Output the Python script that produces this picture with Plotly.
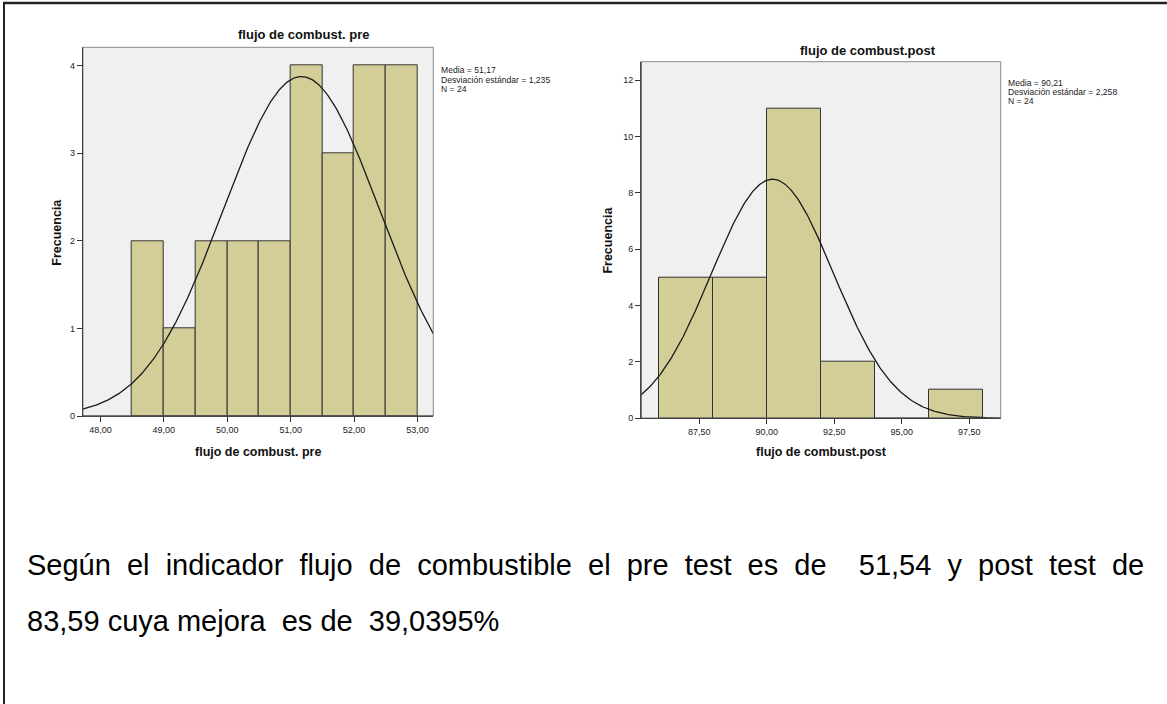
import numpy as np
import plotly.graph_objects as go

W, H = 1167, 704
FONT = "Arial, 'Liberation Sans', sans-serif"

# ---------------- data ----------------
pre_bin_edges = [48.5, 49.0, 49.5, 50.0, 50.5, 51.0, 51.5, 52.0, 52.5, 53.0]
pre_counts = [2, 1, 2, 2, 2, 4, 3, 4, 4]
pre_mean, pre_sd, pre_n = 51.17, 1.235, 24
pre_xticks = [48, 49, 50, 51, 52, 53]
pre_xticklabels = ["48,00", "49,00", "50,00", "51,00", "52,00", "53,00"]
pre_yticks = [0, 1, 2, 3, 4]

post_bin_edges = [86, 88, 90, 92, 94, 96, 98]
post_counts = [5, 5, 11, 2, 0, 1]
post_mean, post_sd, post_n = 90.21, 2.258, 24
post_xticks = [87.5, 90, 92.5, 95, 97.5]
post_xticklabels = ["87,50", "90,00", "92,50", "95,00", "97,50"]
post_yticks = [0, 2, 4, 6, 8, 10, 12]

pre_title = "flujo de combust. pre"
post_title = "flujo de combust.post"
y_title = "Frecuencia"
pre_stats = ["Media = 51,17", "Desviación estándar = 1,235", "N = 24"]
post_stats = ["Media = 90,21", "Desviación estándar = 2,258", "N = 24"]
body_line1 = "Según el indicador flujo de combustible el pre test es de  51,54 y post test de"
body_line2 = "83,59 cuya mejora  es de  39,0395%"

# ---------------- helpers ----------------
def px(x):
    return x / W

def py(y):
    return 1 - y / H

BAR_FILL = "#D3CE97"
BAR_LINE = "#333333"

fig = go.Figure()

def add_hist(edges, counts, mean, sd, n, xr, xa, ya):
    edges = np.array(edges, dtype=float)
    centers = (edges[:-1] + edges[1:]) / 2
    widths = edges[1:] - edges[:-1]
    fig.add_trace(go.Bar(
        x=centers, y=counts, width=widths,
        marker=dict(color=BAR_FILL, line=dict(color=BAR_LINE, width=1)),
        xaxis=xa, yaxis=ya, hoverinfo="skip", showlegend=False,
    ))
    bw = widths[0]
    xs = np.linspace(xr[0], xr[1], 400)
    ys = n * bw * np.exp(-0.5 * ((xs - mean) / sd) ** 2) / (sd * np.sqrt(2 * np.pi))
    fig.add_trace(go.Scatter(
        x=xs, y=ys, mode="lines", line=dict(color="#1a1a1a", width=1.3),
        xaxis=xa, yaxis=ya, hoverinfo="skip", showlegend=False,
    ))

pre_xr = [47.72, 53.25]
pre_yr = [0, 4.21]
post_xr = [85.34, 98.66]
post_yr = [0, 12.65]

add_hist(pre_bin_edges, pre_counts, pre_mean, pre_sd, pre_n, pre_xr, "x", "y")
add_hist(post_bin_edges, post_counts, post_mean, post_sd, post_n, post_xr, "x2", "y2")

axis_common = dict(
    showgrid=False, zeroline=False, showline=True, linecolor="#333333", linewidth=1,
    ticks="outside", ticklen=5, tickwidth=1, tickcolor="#333333",
    tickfont=dict(family=FONT, size=9, color="#222222"), automargin=False,
    fixedrange=True,
)

pre_box = (82.7, 433.3, 47.3, 416.0)    # left, right, top, bottom in px
post_box = (641.0, 1000.7, 61.7, 418.3)

fig.update_layout(
    width=W, height=H,
    margin=dict(l=0, r=0, t=0, b=0),
    paper_bgcolor="white", plot_bgcolor="#F0F0F0",
    bargap=0, showlegend=False,
    xaxis=dict(domain=[px(pre_box[0]), px(pre_box[1])], range=pre_xr,
               tickvals=pre_xticks, ticktext=pre_xticklabels, anchor="y", **axis_common),
    yaxis=dict(domain=[py(pre_box[3]), py(pre_box[2])], range=pre_yr,
               tickvals=pre_yticks, anchor="x", **axis_common),
    xaxis2=dict(domain=[px(post_box[0]), px(post_box[1])], range=post_xr,
                tickvals=post_xticks, ticktext=post_xticklabels, anchor="y2", **axis_common),
    yaxis2=dict(domain=[py(post_box[3]), py(post_box[2])], range=post_yr,
                tickvals=post_yticks, anchor="x2", **axis_common),
)

shapes = []
for (l, r, t, b) in (pre_box, post_box):
    shapes.append(dict(type="rect", xref="paper", yref="paper",
                       x0=px(l), x1=px(r), y0=py(b), y1=py(t),
                       line=dict(color="#8a8a8a", width=1), layer="above"))
    shapes.append(dict(type="line", xref="paper", yref="paper",
                       x0=px(l), x1=px(r), y0=py(b), y1=py(b),
                       line=dict(color="#333333", width=1), layer="above"))
    shapes.append(dict(type="line", xref="paper", yref="paper",
                       x0=px(l), x1=px(l), y0=py(b), y1=py(t),
                       line=dict(color="#333333", width=1), layer="above"))
# outer document frame (top and left)
shapes.append(dict(type="line", xref="paper", yref="paper",
                   x0=px(3), x1=1, y0=py(3), y1=py(3),
                   line=dict(color="#222222", width=2.5)))
shapes.append(dict(type="line", xref="paper", yref="paper",
                   x0=px(4), x1=px(4), y0=0, y1=py(3),
                   line=dict(color="#222222", width=2)))
fig.update_layout(shapes=shapes)

ann = []
def text(x, y, s, size, bold=False, xanchor="center", angle=0, color="#111111"):
    ann.append(dict(
        xref="paper", yref="paper", x=px(x), y=py(y),
        text=("<b>%s</b>" % s) if bold else s, showarrow=False,
        xanchor=xanchor, yanchor="middle", textangle=angle,
        font=dict(family=FONT, size=size, color=color),
    ))

# chart titles
text(303, 35, pre_title, 13, bold=True)
text(868, 50.7, post_title, 13, bold=True)
# axis titles
text(258, 451.7, pre_title, 12.5, bold=True)
text(821, 451.7, post_title, 12.5, bold=True)
text(57, 231.7, y_title, 12.5, bold=True, angle=-90)
text(607.6, 240, y_title, 12.5, bold=True, angle=-90)
# stats
for i, s in enumerate(pre_stats):
    text(439, 70.5 + i * 9.0, s, 8.6, xanchor="left", color="#222222")
for i, s in enumerate(post_stats):
    text(1006, 83.0 + i * 9.0, s, 8.6, xanchor="left", color="#222222")
# body text (line 1 justified in the original: widen spaces)
text(25, 565, body_line1.replace(" ", "\u00a0\u00a0"), 29, xanchor="left", color="#000000")
text(25, 621, body_line2.replace(" ", "\u00a0"), 29, xanchor="left", color="#000000")

fig.update_layout(annotations=ann)

fig.write_html("out.html")
